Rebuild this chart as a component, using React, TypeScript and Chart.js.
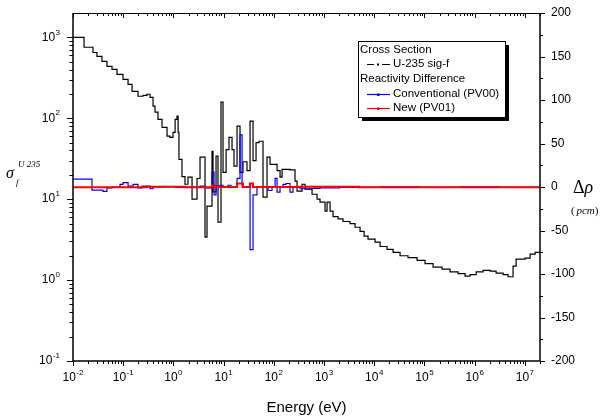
import React, { useEffect, useRef } from "react";
import { Chart, registerables } from "chart.js";

Chart.register(...registerables);

// ---- Cross section (U-235 fission, barns): bin lower edges (eV) and values ----
const sigEnergy = [
  0.01, 0.0166, 0.025, 0.030, 0.0378, 0.0475, 0.0598, 0.0752, 0.0991, 0.125,
  0.150, 0.197, 0.248, 0.298, 0.342, 0.393, 0.430, 0.493, 0.593, 0.746,
  0.855, 0.982, 1.08, 1.18, 1.24, 1.29, 1.48, 1.70, 1.95, 2.35,
  2.95, 3.39, 4.26, 4.67, 5.87, 6.15, 7.06, 7.73, 8.87, 9.73,
  11.2, 12.8, 14.7, 16.1, 18.5, 21.2, 24.3, 29.2, 33.6, 38.5,
  44.2, 50.7, 60.9, 73.2, 84.0, 116, 133, 146, 210, 264,
  290, 365, 419, 577, 726, 832, 1047, 1148, 1318, 1511,
  1901, 2388, 3296, 4149, 5212, 6266, 7520, 10370, 13060, 17990,
  23710, 32660, 47100, 71250, 102800, 148400, 224400, 323600, 467000, 644000,
  809000, 1.07e6, 1.47e6, 2.03e6, 2.67e6, 3.68e6, 4.63e6, 5.82e6, 6.68e6, 1.01e7,
  1.27e7, 1.6e7, 2.0e7,
];
const sigValue = [
  1000, 755, 650, 582, 505, 438, 403, 349, 303, 263,
  215, 187, 192, 198, 181, 141, 119, 97, 77, 60,
  58, 67, 97, 106, 67, 31, 19, 15.3, 18.7, 10,
  18, 33, 3.4, 8.2, 39, 12.3, 34, 5.2, 158, 21.5,
  41, 58, 41, 25.6, 80, 21.5, 29, 22.5, 92, 30,
  50, 52, 10.6, 33, 27, 22.5, 18.7, 23.4, 23, 16.7,
  12.6, 15.3, 13.3, 11.5, 10, 9.2, 7.1, 9.2, 7.1, 6.1,
  5.7, 5.3, 5.0, 4.5, 4.0, 3.5, 3.2, 2.95, 2.6, 2.4,
  2.2, 2.0, 1.9, 1.75, 1.6, 1.45, 1.37, 1.26, 1.2, 1.12,
  1.17, 1.26, 1.32, 1.29, 1.22, 1.17, 1.1, 1.49, 1.82, 1.87,
  2.09, 2.2,
];

// ---- Reactivity difference, Conventional (PV00), pcm ----
const convEnergy = [
  0.01, 0.0239, 0.0396, 0.0475, 0.0598, 0.0863, 0.0991, 0.125, 0.157, 0.197,
  0.237, 0.342, 0.393, 0.681, 1.08, 1.70, 3.39, 4.26, 5.87, 6.44,
  7.06, 8.47, 9.73, 12.2, 14.0, 18.5, 21.2, 23.3, 33.6, 38.5,
  46.2, 76.6, 92.0, 106, 116, 133, 152, 175, 210, 241,
  333, 577, 832, 2084, 13060, 81700, 512000, 3.21e6, 2.0e7,
];
const convValue = [
  9, -3.5, -5, -1, 0, 3, 5, 1, 3, -1,
  1, -2, 0, 0.5, -0.5, 0, 1, -1, 17, -9,
  1, 2, 0, 2, 0, 10, 60, 0, -72, -9,
  0, -4, 0, 10, -6, 0, 3, 4, -6, 0,
  -2, -1.5, -1, -0.5, 0.3, -0.3, 0.3, -0.3,
];

// ---- Reactivity difference, New (PV01), pcm ----
const newEnergy = [0.01, 0.3, 1.7, 5.87, 6.7, 18.5, 24.3, 33.6, 38.5, 300, 5000, 2.0e7];
const newValue = [-0.3, 0.3, -0.3, 2, 0, 4, 0, 4, 0, 0.3, -0.3];

// ---- Axes ----
const xPowers = [-2, -1, 0, 1, 2, 3, 4, 5, 6, 7];
const yPowers = [-1, 0, 1, 2, 3];
const y2Ticks = [-200, -150, -100, -50, 0, 50, 100, 150, 200];
const xMin = 0.01, xMax = 2e7, yMin = 0.1, yMax = 2000, y2Min = -200, y2Max = 200;

const legendTitle1 = "Cross Section";
const legendTitle2 = "Reactivity Difference";
const sigLabel = "U-235 sig-f";
const convLabel = "Conventional (PV00)";
const newLabel = "New (PV01)";
const xTitle = "Energy (eV)";

const SANS = '"Liberation Sans", Arial, sans-serif';
const SERIF = '"Liberation Serif", "Times New Roman", serif';

function toSteps(edges: number[], vals: number[]) {
  return edges.map((e, i) => ({ x: e, y: vals[Math.min(i, vals.length - 1)] }));
}

function drawPow(ctx: CanvasRenderingContext2D, p: number, x: number, y: number, align: "center" | "right") {
  const base = "10";
  const exp = String(p);
  ctx.textAlign = "left";
  ctx.textBaseline = "middle";
  ctx.font = `12px ${SANS}`;
  const wb = ctx.measureText(base).width;
  ctx.font = `8px ${SANS}`;
  const we = ctx.measureText(exp).width;
  const total = wb + we + 0.5;
  const x0 = align === "center" ? x - total / 2 : x - total;
  ctx.font = `12px ${SANS}`;
  ctx.fillText(base, x0, y);
  ctx.font = `8px ${SANS}`;
  ctx.fillText(exp, x0 + wb + 0.5, y - 5);
}

const framePlugin = {
  id: "frame",
  afterDraw(chart: any) {
    const ctx: CanvasRenderingContext2D = chart.ctx;
    const { left, right, top, bottom } = chart.chartArea;
    const sx = chart.scales.x, sy = chart.scales.y, sy2 = chart.scales.y2;
    ctx.save();
    ctx.strokeStyle = "#000";
    ctx.fillStyle = "#000";

    // frame
    ctx.lineWidth = 1.5;
    ctx.beginPath();
    ctx.moveTo(left, top); ctx.lineTo(left, bottom);
    ctx.lineTo(right, bottom); ctx.lineTo(right, top);
    ctx.stroke();
    ctx.lineWidth = 1;
    ctx.beginPath();
    ctx.moveTo(left, top + 0.5); ctx.lineTo(right, top + 0.5);
    ctx.stroke();

    // x ticks (bottom outward, top inward)
    ctx.lineWidth = 1;
    ctx.beginPath();
    for (const p of xPowers) {
      for (let k = 1; k <= 9; k++) {
        const v = k * Math.pow(10, p);
        if (v < xMin || v > xMax) continue;
        const px = Math.round(sx.getPixelForValue(v)) + 0.5;
        const len = k === 1 ? 5 : 3;
        ctx.moveTo(px, bottom); ctx.lineTo(px, bottom + len);
        ctx.moveTo(px, top); ctx.lineTo(px, top + len);
      }
    }
    // y ticks (left outward)
    for (const p of yPowers) {
      for (let k = 1; k <= 9; k++) {
        const v = k * Math.pow(10, p);
        if (v < yMin || v >= yMax) continue;
        const py = Math.round(sy.getPixelForValue(v)) + 0.5;
        const len = k === 1 ? 6 : 3.5;
        ctx.moveTo(left, py); ctx.lineTo(left - len, py);
      }
    }
    // y2 ticks (right outward)
    for (let v = y2Min; v <= y2Max; v += 25) {
      const py = Math.round(sy2.getPixelForValue(v)) + 0.5;
      const len = v % 50 === 0 ? 5 : 3;
      ctx.moveTo(right, py); ctx.lineTo(right + len, py);
    }
    ctx.stroke();

    // tick labels
    for (const p of xPowers) {
      drawPow(ctx, p, sx.getPixelForValue(Math.pow(10, p)), 378, "center");
    }
    for (const p of yPowers) {
      drawPow(ctx, p, 60, sy.getPixelForValue(Math.pow(10, p)), "right");
    }
    ctx.font = `12px ${SANS}`;
    ctx.textAlign = "left";
    ctx.textBaseline = "middle";
    for (const v of y2Ticks) {
      ctx.fillText(String(v), 551, sy2.getPixelForValue(v));
    }

    // axis titles
    ctx.font = `15px ${SANS}`;
    ctx.textAlign = "center";
    ctx.fillText(xTitle, (left + right) / 2, 408);

    ctx.textAlign = "left";
    ctx.font = `italic 16px ${SANS}`;
    ctx.font = `italic 16px ${SERIF}`;
    ctx.fillText("σ", 6, 174);
    ctx.font = `italic 9px ${SERIF}`;
    ctx.fillText("f", 16, 183);
    ctx.fillText("U 235", 18, 165);

    ctx.font = `18px ${SERIF}`;
    ctx.fillText("Δ", 573, 188);
    const wd = ctx.measureText("Δ").width;
    ctx.font = `italic 18px ${SERIF}`;
    ctx.fillText("ρ", 573 + wd, 188);
    ctx.font = `11px ${SERIF}`;
    let cx = 571;
    ctx.fillText("(", cx, 211); cx += ctx.measureText("( ").width - 1;
    ctx.font = `italic 11px ${SERIF}`;
    ctx.fillText("pcm", cx, 211); cx += ctx.measureText("pcm").width;
    ctx.font = `11px ${SERIF}`;
    ctx.fillText(")", cx, 211);

    // legend
    const bx = 358, by = 41, bw = 147, bh = 76;
    ctx.fillStyle = "#000";
    ctx.fillRect(bx + 4, by + 4, bw, bh);
    ctx.fillStyle = "#fff";
    ctx.fillRect(bx, by, bw, bh);
    ctx.lineWidth = 1;
    ctx.strokeStyle = "#000";
    ctx.strokeRect(bx + 0.5, by + 0.5, bw, bh);
    ctx.fillStyle = "#000";
    ctx.font = `11.5px ${SANS}`;
    ctx.textBaseline = "middle";
    ctx.fillText(legendTitle1, 360, 50);
    ctx.fillText(sigLabel, 393, 64);
    ctx.fillText(legendTitle2, 360, 79);
    ctx.fillText(convLabel, 393, 94);
    ctx.fillText(newLabel, 393, 108);
    // symbols
    ctx.lineWidth = 1.2;
    ctx.beginPath();
    ctx.moveTo(367, 64.5); ctx.lineTo(374, 64.5);
    ctx.moveTo(382, 64.5); ctx.lineTo(390, 64.5);
    ctx.stroke();
    ctx.fillRect(377, 63.5, 2, 2);
    ctx.strokeStyle = "#0000ff"; ctx.fillStyle = "#0000ff";
    ctx.beginPath(); ctx.moveTo(367, 94.5); ctx.lineTo(390, 94.5); ctx.stroke();
    ctx.fillRect(377, 93.5, 2.5, 2.5);
    ctx.strokeStyle = "#ff0000"; ctx.fillStyle = "#ff0000";
    ctx.beginPath(); ctx.moveTo(367, 108.5); ctx.lineTo(390, 108.5); ctx.stroke();
    ctx.fillRect(377, 107.5, 2.5, 2.5);

    ctx.restore();
  },
};

export default function App() {
  const ref = useRef<HTMLCanvasElement>(null);
  useEffect(() => {
    if (!ref.current) return;
    const chart = new Chart(ref.current, {
      type: "line",
      data: {
        datasets: [
          {
            label: newLabel, data: toSteps(newEnergy, newValue), yAxisID: "y2",
            borderColor: "#ff0000", borderWidth: 2, stepped: "before", pointRadius: 0, order: 1,
          },
          {
            label: convLabel, data: toSteps(convEnergy, convValue), yAxisID: "y2",
            borderColor: "#0000ff", borderWidth: 1.2, stepped: "before", pointRadius: 0, order: 2,
          },
          {
            label: sigLabel, data: toSteps(sigEnergy, sigValue), yAxisID: "y",
            borderColor: "#000000", borderWidth: 1.2, stepped: "before", pointRadius: 0, order: 3,
          },
        ] as any,
      },
      options: {
        animation: false,
        responsive: false,
        maintainAspectRatio: false,
        layout: { padding: { top: 13, left: 0, right: 0, bottom: 0 }, autoPadding: false } as any,
        plugins: { legend: { display: false }, tooltip: { enabled: false } },
        scales: {
          x: {
            type: "logarithmic", min: xMin, max: xMax, position: "bottom",
            grid: { display: false }, border: { display: false }, ticks: { display: false },
            afterFit: (s: any) => { s.height = 57; },
          },
          y: {
            type: "logarithmic", min: yMin, max: yMax, position: "left",
            grid: { display: false }, border: { display: false }, ticks: { display: false },
            afterFit: (s: any) => { s.width = 73; },
          },
          y2: {
            type: "linear", min: y2Min, max: y2Max, position: "right",
            grid: { display: false }, border: { display: false }, ticks: { display: false },
            afterFit: (s: any) => { s.width = 65; },
          },
        } as any,
      },
      plugins: [framePlugin],
    });
    return () => chart.destroy();
  }, []);
  return (
    <div style={{ position: "fixed", left: 0, top: 0, width: 605, height: 418, background: "#fff" }}>
      <canvas ref={ref} width={605} height={418} style={{ display: "block", width: 605, height: 418 }} />
    </div>
  );
}
